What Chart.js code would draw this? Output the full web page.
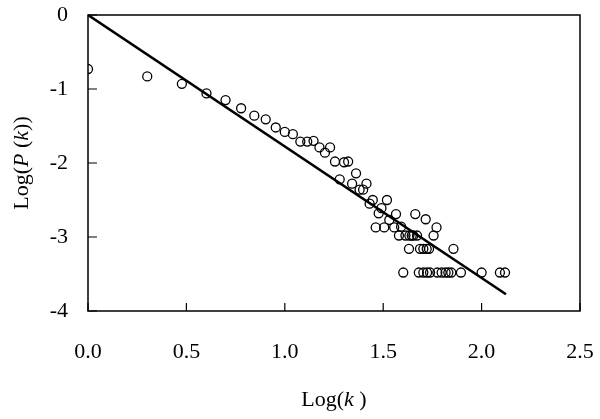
<!DOCTYPE html>
<html>
<head>
<meta charset="utf-8">
<script src="https://cdn.jsdelivr.net/npm/chart.js@4.4.0/dist/chart.umd.min.js"></script>
<style>
  html, body { margin: 0; padding: 0; background: #fff; }
  #wrap { width: 600px; height: 419px; }
</style>
</head>
<body>
<div id="wrap"><canvas id="plot"></canvas></div>
<script>
const logK = [
  0, 0.301, 0.477, 0.602, 0.699, 0.778, 0.845, 0.903, 0.954, 1.0,
  1.041, 1.079, 1.114, 1.146, 1.176, 1.204, 1.230, 1.255, 1.279, 1.301,
  1.322, 1.342, 1.362, 1.380, 1.398, 1.415, 1.431, 1.447, 1.462, 1.477,
  1.491, 1.505, 1.519, 1.531, 1.556, 1.565, 1.580, 1.591, 1.602, 1.613,
  1.631, 1.633, 1.653, 1.663, 1.672, 1.681, 1.687, 1.704, 1.704, 1.716,
  1.721, 1.723, 1.733, 1.738, 1.756, 1.771, 1.775, 1.797, 1.817, 1.831,
  1.846, 1.857, 1.895, 2.0, 2.093, 2.119, 1.645
];
const logP = [
  -0.73, -0.83, -0.93, -1.06, -1.15, -1.26, -1.36, -1.41, -1.52, -1.58,
  -1.61, -1.71, -1.71, -1.70, -1.79, -1.86, -1.79, -1.98, -2.22, -1.99,
  -1.98, -2.28, -2.14, -2.36, -2.36, -2.28, -2.55, -2.50, -2.87, -2.68,
  -2.61, -2.87, -2.50, -2.77, -2.87, -2.69, -2.98, -2.86, -3.48, -2.98,
  -3.16, -2.98, -2.98, -2.69, -2.98, -3.48, -3.16, -3.16, -3.48, -2.76,
  -3.16, -3.48, -3.16, -3.48, -2.98, -2.87, -3.48, -3.48, -3.48, -3.48,
  -3.48, -3.16, -3.48, -3.48, -3.48, -3.48, -2.98
];

// fitted power-law line
const fitX = [0, 2.124];
const fitY = [0, -3.774];

const xTicks = [0, 0.5, 1.0, 1.5, 2.0, 2.5];
const yTicks = [0, -1, -2, -3, -4];

Chart.defaults.font.family = "'Liberation Serif', 'Times New Roman', serif";
Chart.defaults.font.size = 22;
Chart.defaults.color = '#000';

// box around plot area + inward tick marks
const frame = {
  id: 'frame',
  afterDraw(chart) {
    const { ctx, chartArea: a, scales } = chart;
    ctx.save();
    ctx.strokeStyle = '#000';
    ctx.lineWidth = 1.5;
    ctx.strokeRect(a.left, a.top, a.right - a.left, a.bottom - a.top);
    ctx.lineWidth = 1.2;
    ctx.beginPath();
    xTicks.forEach(v => {
      const px = scales.x.getPixelForValue(v);
      ctx.moveTo(px, a.bottom);
      ctx.lineTo(px, a.bottom - 8);
    });
    yTicks.forEach(v => {
      const py = scales.y.getPixelForValue(v);
      ctx.moveTo(a.left, py);
      ctx.lineTo(a.left + 9, py);
    });
    ctx.stroke();
    ctx.restore();
  }
};

// axis titles with italic variables
function drawParts(ctx, parts, cx, cy) {
  const fam = Chart.defaults.font.family;
  let total = 0;
  parts.forEach(p => {
    ctx.font = (p[1] ? 'italic ' : '') + '22px ' + fam;
    total += ctx.measureText(p[0]).width;
  });
  let x = cx - total / 2;
  parts.forEach(p => {
    ctx.font = (p[1] ? 'italic ' : '') + '22px ' + fam;
    ctx.fillText(p[0], x, cy);
    x += ctx.measureText(p[0]).width;
  });
}

const titles = {
  id: 'titles',
  afterDraw(chart) {
    const { ctx, chartArea: a } = chart;
    ctx.save();
    ctx.fillStyle = '#000';
    ctx.textBaseline = 'middle';
    ctx.textAlign = 'left';
    drawParts(ctx, [['Log(', false], ['k', true], [' )', false]], (a.left + a.right) / 2, 400);
    ctx.translate(22, (a.top + a.bottom) / 2);
    ctx.rotate(-Math.PI / 2);
    drawParts(ctx, [['Log(', false], ['P', true], [' (', false], ['k', true], ['))', false]], 0, 0);
    ctx.restore();
  }
};

new Chart(document.getElementById('plot'), {
  type: 'scatter',
  data: {
    datasets: [{
      label: 'fit',
      type: 'line',
      data: fitX.map((x, i) => ({ x: x, y: fitY[i] })),
      borderColor: '#000',
      borderWidth: 2.6,
      pointRadius: 0,
      fill: false
    }, {
      label: 'P(k)',
      data: logK.map((x, i) => ({ x: x, y: logP[i] })),
      borderColor: '#000',
      backgroundColor: 'rgba(0,0,0,0)',
      borderWidth: 1.3,
      pointRadius: 4.5
    }]
  },
  options: {
    responsive: true,
    maintainAspectRatio: false,
    animation: false,
    layout: { padding: { top: 15, right: 20, bottom: 0, left: 0 } },
    plugins: {
      legend: { display: false },
      tooltip: { enabled: false }
    },
    scales: {
      x: {
        type: 'linear',
        min: 0,
        max: 2.5,
        afterBuildTicks: s => { s.ticks = xTicks.map(v => ({ value: v })); },
        afterFit: s => { s.height = 108; s.paddingLeft = 0; s.paddingRight = 0; },
        grid: { display: false, drawTicks: false },
        border: { display: false },
        ticks: {
          padding: 28,
          maxRotation: 0,
          callback: v => v.toFixed(1)
        }
      },
      y: {
        min: -4,
        max: 0,
        afterBuildTicks: s => { s.ticks = yTicks.map(v => ({ value: v })); },
        afterFit: s => { s.width = 88; s.paddingTop = 0; s.paddingBottom = 0; },
        grid: { display: false, drawTicks: false },
        border: { display: false },
        ticks: {
          padding: 20,
          callback: v => String(v)
        }
      }
    }
  },
  plugins: [frame, titles]
});
</script>
</body>
</html>
